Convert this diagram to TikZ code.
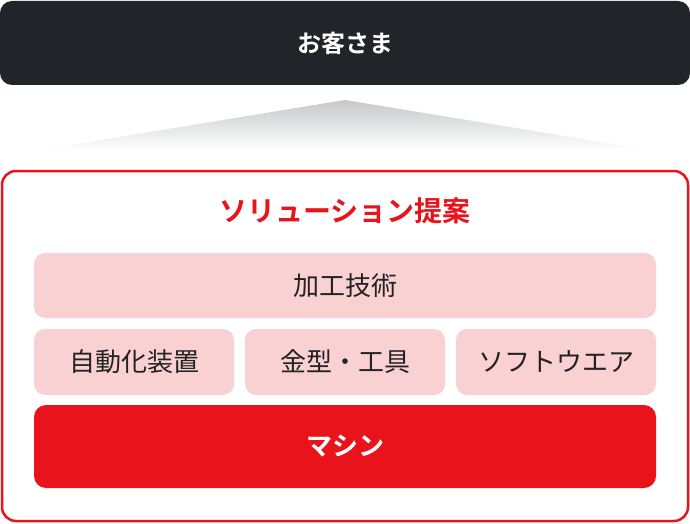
\documentclass[tikz,border=0pt]{standalone}
\usepackage{fontspec}
\setmainfont{Noto Sans CJK JP}
\newfontfamily\jpbold{Noto Sans CJK JP Bold}
\begin{document}
\begin{tikzpicture}[x=1pt,y=-1pt,
  darkbox/.style={fill=dark, rounded corners=12pt},
  pinkbox/.style={fill=pinkfill, rounded corners=11pt},
  redbox/.style={fill=brandred, rounded corners=12pt},
  lbl/.style={font=\fontsize{26}{30}\selectfont, text=txt},
]
\definecolor{dark}{HTML}{212429}
\definecolor{brandred}{HTML}{E8131B}
\definecolor{pinkfill}{HTML}{F9D1D3}
\definecolor{txt}{HTML}{222222}
\definecolor{grayg}{HTML}{C6C8C9}
\useasboundingbox (0,0) rectangle (690,524);
% customer
\fill[darkbox] (0,1) rectangle (690,85);
\node[font=\jpbold\fontsize{24}{28}\selectfont, text=white] (cust) at (345,43) {お客さま};
% gradient triangle
\shade[top color=grayg, bottom color=white] (345,100) -- (650,150) -- (40,150) -- cycle;
% outer red frame
\draw[brandred, line width=2.5pt, rounded corners=14pt] (2,171) rectangle (688,521);
\node[font=\jpbold\fontsize{28}{32}\selectfont, text=brandred] (title) at (345,211) {ソリューション提案};
% boxes
\fill[pinkbox] (34,253) rectangle (656,318);
\node[lbl] (kako) at (345,286) {加工技術};
\fill[pinkbox] (34,329) rectangle (234,395);
\node[lbl] (jido) at (134,362) {自動化装置};
\fill[pinkbox] (245,329) rectangle (445,395);
\node[lbl] (kanagata) at (345,362) {金型・工具};
\fill[pinkbox] (456,329) rectangle (656,395);
\node[lbl] (soft) at (556,362) {ソフトウエア};
\fill[redbox] (34,405) rectangle (656,488);
\node[font=\jpbold\fontsize{26}{30}\selectfont, text=white] (machine) at (345,446) {マシン};
\end{tikzpicture}
\end{document}
